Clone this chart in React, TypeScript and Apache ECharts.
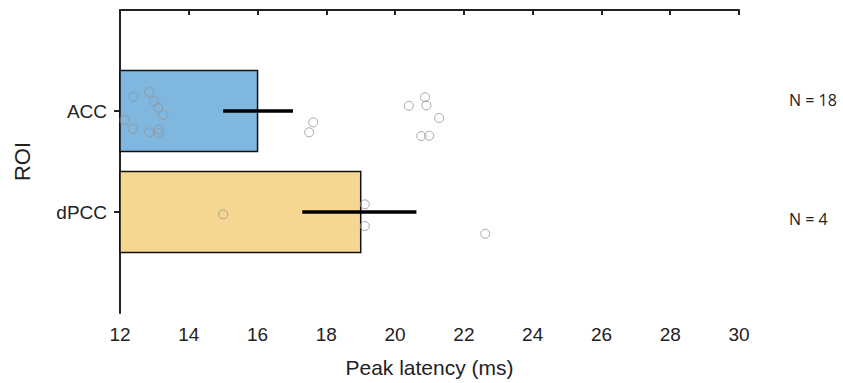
import React, { useEffect, useRef } from "react";
import * as echarts from "echarts";

const categories = ["ACC", "dPCC"];
const categoryPos = [1, 2];
const barMeans = [16.0, 19.0];
const errLow = [15.0, 17.3];
const errHigh = [17.03, 20.62];
const barColors = ["#7fb7de", "#f5d791"];
const nLabels = ["N = 18", "N = 4"];
const xTicks = [12, 14, 16, 18, 20, 22, 24, 26, 28, 30];

// subject peak latencies and vertical jitter (in category units)
const accLatency = [12.39, 12.85, 12.99, 13.11, 13.26, 12.13, 12.37, 12.85, 13.13, 13.13, 17.62, 17.5, 20.4, 20.87, 20.91, 21.28, 20.76, 20.99];
const accJitter = [-0.142, -0.188, -0.096, -0.033, 0.04, 0.089, 0.175, 0.211, 0.181, 0.218, 0.112, 0.211, -0.052, -0.136, -0.056, 0.069, 0.248, 0.245];
const dpccLatency = [15.0, 19.12, 19.12, 22.62];
const dpccJitter = [0.023, -0.076, 0.139, 0.215];

const FONT = "Liberation Sans, Arial, sans-serif";

export default function App() {
  const ref = useRef<HTMLDivElement>(null);
  useEffect(() => {
    document.body.style.margin = "0";
    const chart = echarts.init(ref.current!, null, { renderer: "svg" });
    const barData = categories.map((c, i) => [barMeans[i], categoryPos[i], i]);
    const errData = categories.map((c, i) => [errLow[i], errHigh[i], categoryPos[i]]);
    const pts: number[][] = [];
    accLatency.forEach((v, i) => pts.push([v, categoryPos[0] + accJitter[i]]));
    dpccLatency.forEach((v, i) => pts.push([v, categoryPos[1] + dpccJitter[i]]));

    chart.setOption({
      animation: false,
      grid: { left: 120, right: 104, top: 10, bottom: 70 },
      xAxis: {
        type: "value",
        min: xTicks[0],
        max: xTicks[xTicks.length - 1],
        interval: 2,
        name: "Peak latency (ms)",
        nameLocation: "middle",
        nameGap: 44,
        nameTextStyle: { fontFamily: FONT, fontSize: 21, color: "#222" },
        axisLine: { lineStyle: { color: "#222", width: 2 } },
        axisTick: { length: 5, lineStyle: { color: "#222", width: 2 } },
        axisLabel: { fontFamily: FONT, fontSize: 19, color: "#222", margin: 12 },
        splitLine: { show: false },
      },
      yAxis: {
        type: "value",
        min: 0,
        max: 3,
        interval: 1,
        inverse: true,
        name: "ROI",
        nameLocation: "middle",
        nameGap: 87,
        nameRotate: 90,
        nameTextStyle: { fontFamily: FONT, fontSize: 22, color: "#222" },
        axisLine: { show: true, lineStyle: { color: "#222", width: 2 } },
        axisTick: { show: true, length: 6, customValues: categoryPos, lineStyle: { color: "#222", width: 2 } },
        axisLabel: {
          fontFamily: FONT,
          fontSize: 19,
          color: "#222",
          margin: 13,
          customValues: categoryPos,
          formatter: (v: number) => {
            const idx = categoryPos.indexOf(Math.round(v));
            return idx >= 0 ? categories[idx] : "";
          },
        },
        splitLine: { show: false },
      },
      series: [
        {
          type: "custom",
          data: barData,
          renderItem: (params: any, api: any) => {
            const v = api.value(0);
            const y = api.value(1);
            const i = api.value(2);
            const p0 = api.coord([12, y - 0.4]);
            const p1 = api.coord([v, y + 0.4]);
            return {
              type: "rect",
              shape: { x: p0[0], y: p0[1], width: p1[0] - p0[0], height: p1[1] - p0[1] },
              style: { fill: barColors[i], stroke: "#111", lineWidth: 1.5 },
            };
          },
          z: 1,
        },
        {
          type: "scatter",
          data: pts,
          symbol: "circle",
          symbolSize: 9,
          itemStyle: { color: "rgba(255,255,255,0)", borderColor: "#949494", borderWidth: 1 },
          z: 2,
        },
        {
          type: "custom",
          data: errData,
          renderItem: (params: any, api: any) => {
            const a = api.coord([api.value(0), api.value(2)]);
            const b = api.coord([api.value(1), api.value(2)]);
            return {
              type: "line",
              shape: { x1: a[0], y1: a[1], x2: b[0], y2: b[1] },
              style: { stroke: "#000", lineWidth: 3.5 },
            };
          },
          z: 3,
        },
      ],
      graphic: [
        { type: "text", x: 789, y: 100, style: { text: nLabels[0], fontFamily: "Open Sans, sans-serif", fontSize: 16, fill: "#222", textVerticalAlign: "middle" } },
        { type: "text", x: 789, y: 219, style: { text: nLabels[1], fontFamily: "Open Sans, sans-serif", fontSize: 16, fill: "#222", textVerticalAlign: "middle" } },
      ],
    });
    return () => chart.dispose();
  }, []);
  return <div ref={ref} style={{ width: 843, height: 383 }} />;
}
